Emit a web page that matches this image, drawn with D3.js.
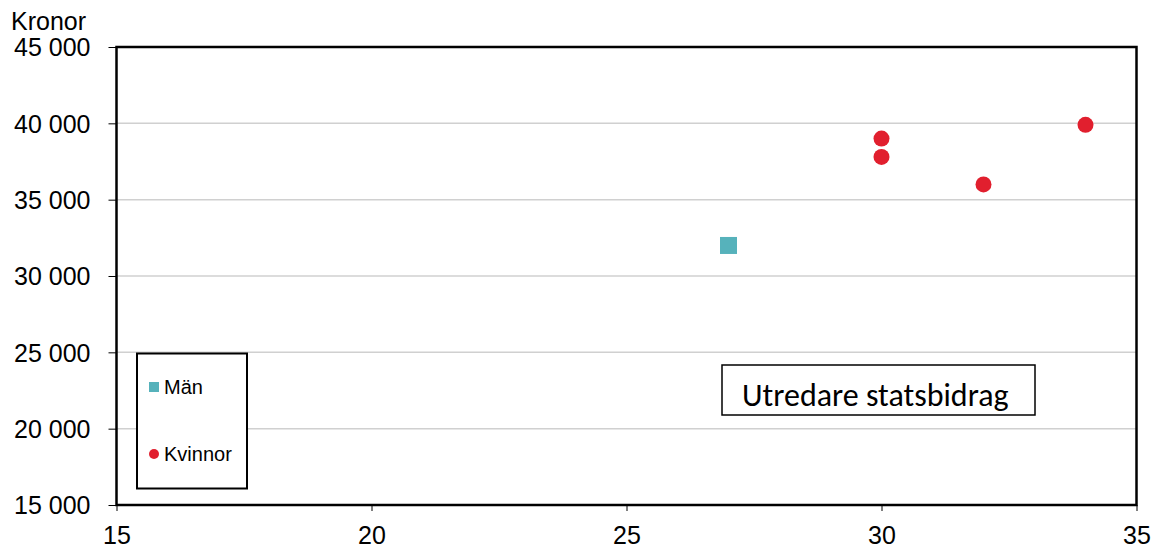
<!DOCTYPE html>
<html><head><meta charset="utf-8">
<script src="https://cdn.jsdelivr.net/npm/d3@7"></script>
<style>body{margin:0;background:#fff;}svg{display:block;}</style>
</head><body>
<svg id="c" width="1154" height="548"></svg>
<script>
const menX = [27];
const menY = [32000];
const womenX = [30, 30, 32, 34];
const womenY = [39000, 37800, 36000, 39900];
const xTicks = [15, 20, 25, 30, 35];
const yTicks = [15000, 20000, 25000, 30000, 35000, 40000, 45000];
const legendLabels = ["Män", "Kvinnor"];
const yTitle = "Kronor";
const noteText = "Utredare statsbidrag";

const svg = d3.select("#c");
const L = 116.5, R = 1136.5, T = 47, B = 505;
const x = d3.scaleLinear().domain([15, 35]).range([L, R]);
const y = d3.scaleLinear().domain([15000, 45000]).range([B, T]);
const fmt = v => d3.format(",")(v).replace(/,/g, " ");
const font = "'Liberation Sans', Arial, sans-serif";

// gridlines
svg.append("g").selectAll("line").data(yTicks.filter(v => v > 15000 && v < 45000)).join("line")
  .attr("x1", L).attr("x2", R).attr("y1", d => y(d)).attr("y2", d => y(d))
  .attr("stroke", "#d0d0d0").attr("stroke-width", 1.5);

// y axis
const ya = svg.append("g").attr("transform", `translate(${L},0)`)
  .call(d3.axisLeft(y).tickValues(yTicks).tickFormat(fmt).tickSize(8).tickPadding(18));
ya.select(".domain").remove();
ya.attr("font-size", null).attr("font-family", null);
ya.selectAll("line").attr("stroke", "#000").attr("stroke-width", 1);
ya.selectAll("text").style("font-family", font).style("font-size", "25px").attr("fill", "#000").attr("dy", "0.35em");

// x axis
const xa = svg.append("g").attr("transform", `translate(0,${B})`)
  .call(d3.axisBottom(x).tickValues(xTicks).tickSize(6).tickPadding(15));
xa.select(".domain").remove();
xa.attr("font-size", null).attr("font-family", null);
xa.selectAll("line").attr("stroke", "#000").attr("stroke-width", 1);
xa.selectAll("text").style("font-family", font).style("font-size", "25px").attr("fill", "#000");

// frame
svg.append("rect").attr("x", L).attr("y", T).attr("width", R - L).attr("height", B - T)
  .attr("fill", "none").attr("stroke", "#000").attr("stroke-width", 2.5);

// title
svg.append("text").attr("x", 11).attr("y", 30).text(yTitle)
  .style("font-family", font).style("font-size", "25px").attr("fill", "#000");

// men points
const s = 17;
svg.append("g").selectAll("rect").data(menX.map((d, i) => [d, menY[i]])).join("rect")
  .attr("x", d => x(d[0]) - s / 2).attr("y", d => y(d[1]) - s / 2)
  .attr("width", s).attr("height", s).attr("fill", "#56B2BB");

// women points
svg.append("g").selectAll("circle").data(womenX.map((d, i) => [d, womenY[i]])).join("circle")
  .attr("cx", d => x(d[0])).attr("cy", d => y(d[1])).attr("r", 8).attr("fill", "#E11F2E");

// legend
const lg = svg.append("g");
lg.append("rect").attr("x", 137).attr("y", 353.5).attr("width", 110).attr("height", 135)
  .attr("fill", "#fff").attr("stroke", "#000").attr("stroke-width", 2);
lg.append("rect").attr("x", 149).attr("y", 382).attr("width", 10).attr("height", 10).attr("fill", "#56B2BB");
lg.append("circle").attr("cx", 154).attr("cy", 454).attr("r", 5).attr("fill", "#E11F2E");
lg.selectAll("text.l").data(legendLabels).join("text").attr("class", "l")
  .attr("x", 164).attr("y", (d, i) => i === 0 ? 394 : 461).text(d => d)
  .style("font-family", font).style("font-size", "20px").attr("fill", "#000");

// note box
svg.append("rect").attr("x", 722).attr("y", 365).attr("width", 313).attr("height", 50)
  .attr("fill", "#fff").attr("stroke", "#000").attr("stroke-width", 1.5);
svg.append("text").attr("x", 742).attr("y", 406).text(noteText)
  .style("font-family", "Carlito, Calibri, Lato, sans-serif").style("font-size", "32px").attr("fill", "#000");
</script>
</body></html>
